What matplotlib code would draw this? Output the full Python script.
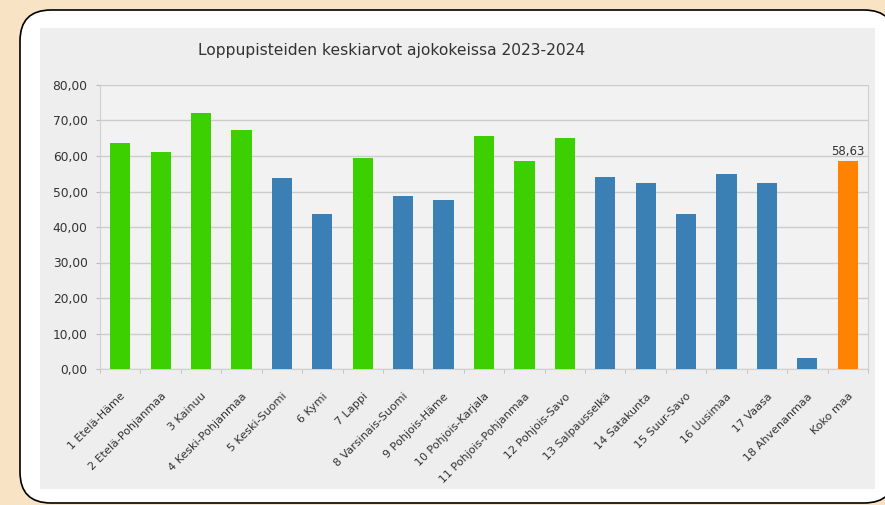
import matplotlib
matplotlib.use("Agg")
import matplotlib.pyplot as plt
from matplotlib.patches import FancyBboxPatch, Rectangle
from matplotlib.transforms import ScaledTranslation
import numpy as np

categories = ["1 Etelä-Häme", "2 Etelä-Pohjanmaa", "3 Kainuu", "4 Keski-Pohjanmaa",
              "5 Keski-Suomi", "6 Kymi", "7 Lappi", "8 Varsinais-Suomi", "9 Pohjois-Häme",
              "10 Pohjois-Karjala", "11 Pohjois-Pohjanmaa", "12 Pohjois-Savo",
              "13 Salpausselkä", "14 Satakunta", "15 Suur-Savo", "16 Uusimaa", "17 Vaasa",
              "18 Ahvenanmaa", "Koko maa"]
values = [63.8, 61.1, 72.0, 67.3, 53.7, 43.7, 59.5, 48.6, 47.6, 65.7, 58.7, 65.2,
          54.2, 52.5, 43.7, 54.9, 52.5, 3.1, 58.63]
groups = ["g", "g", "g", "g", "b", "b", "g", "b", "b", "g", "g", "g",
          "b", "b", "b", "b", "b", "b", "o"]
yticks = [0, 10, 20, 30, 40, 50, 60, 70, 80]
title = "Loppupisteiden keskiarvot ajokokeissa 2023-2024"
label_text = "58,63"

colmap = {"g": "#3dd000", "b": "#3a80b4", "o": "#ff8200"}

W, H = 885, 505
fig = plt.figure(figsize=(W / 100, H / 100), dpi=100)
fig.patch.set_facecolor("#f8e4c5")

def fx(px):
    return px / W

def fy(py):
    return 1 - py / H

# white rounded frame
frame = FancyBboxPatch((fx(20), fy(503)), fx(895) - fx(20), fy(10) - fy(503),
                       boxstyle="round,pad=0,rounding_size=0.035",
                       transform=fig.transFigure, facecolor="white",
                       edgecolor="black", linewidth=1.2, mutation_aspect=W / H,
                       zorder=-3)
fig.patches.append(frame)
# gray panel
panel = Rectangle((fx(40), fy(489)), fx(875) - fx(40), fy(28) - fy(489),
                  transform=fig.transFigure, facecolor="#eeeeee", edgecolor="none",
                  zorder=-2)
fig.patches.append(panel)

ax = fig.add_axes([fx(100), fy(369), fx(868) - fx(100), fy(85) - fy(369)])
ax.set_facecolor("#f2f2f2")
x = np.arange(len(categories))
ax.bar(x, values, width=0.5, color=[colmap[g] for g in groups], zorder=3)
ax.set_xlim(-0.5, len(categories) - 0.5)
ax.set_ylim(0, 80)
ax.set_yticks(yticks)
ax.set_yticklabels([f"{v:.2f}".replace(".", ",") for v in yticks],
                   fontsize=8.8, color="#333333")
ax.yaxis.grid(True, color="#cccccc", linewidth=1, zorder=0)
ax.set_xticks(x)
ax.set_xticklabels(categories, rotation=45, ha="right", rotation_mode="anchor",
                   fontsize=8, color="#333333")
shift = ScaledTranslation(-6 / 100, 0, fig.dpi_scale_trans)
for lbl in ax.get_xticklabels():
    lbl.set_transform(lbl.get_transform() + shift)
ax.set_xticks(np.arange(len(categories) + 1) - 0.5, minor=True)
ax.tick_params(axis="x", which="major", length=0, pad=16)
ax.tick_params(axis="x", which="minor", length=3, color="#bbbbbb")
ax.tick_params(axis="y", length=3, color="#bbbbbb", pad=6)
for s in ["top"]:
    ax.spines[s].set_visible(False)
for s in ["left", "right", "bottom"]:
    ax.spines[s].set_color("#d0d0d0")

ax.text(x[-1], values[-1] + 0.8, label_text, ha="center", va="bottom",
        fontsize=8.5, color="#333333", zorder=4)

fig.text(fx(392), fy(50), title, ha="center", va="center", fontsize=11.2,
         color="#333333")

fig.savefig("out.png", dpi=100, facecolor=fig.get_facecolor())
